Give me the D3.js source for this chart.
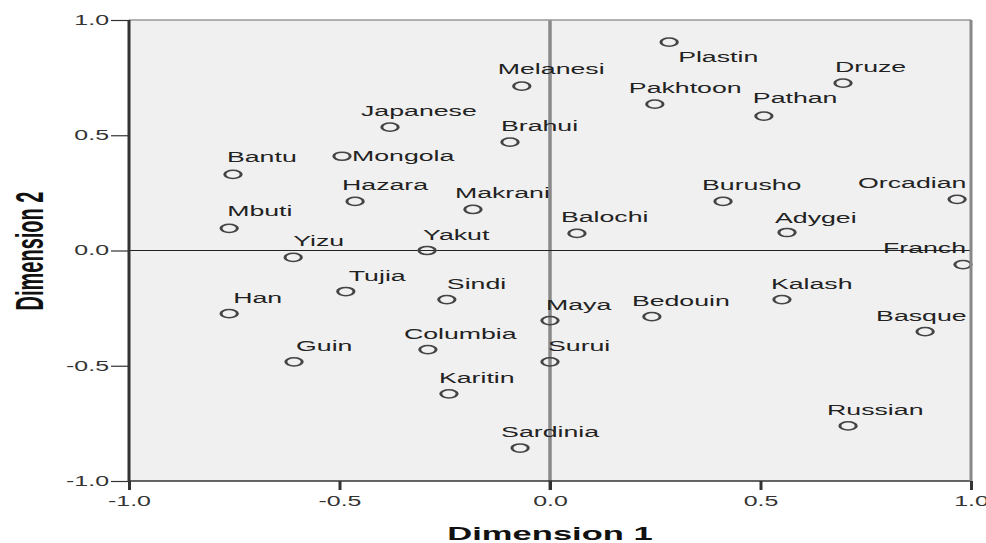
<!DOCTYPE html>
<html>
<head>
<meta charset="utf-8">
<script src="https://cdn.jsdelivr.net/npm/d3@7"></script>
<style>
  body { margin: 0; background: #fff; }
  text { font-family: "Liberation Sans", Arial, sans-serif; }
</style>
</head>
<body>
<script>
// Population names and their two MDS coordinates
var names = ["Plastin", "Druze", "Pakhtoon", "Pathan", "Melanesi", "Japanese", "Brahui", "Mongola",
             "Bantu", "Hazara", "Makrani", "Burusho", "Orcadian", "Mbuti", "Balochi", "Adygei",
             "Yakut", "Yizu", "Franch", "Tujia", "Sindi", "Kalash", "Han", "Maya",
             "Bedouin", "Basque", "Columbia", "Guin", "Surui", "Karitin", "Russian", "Sardinia"];

var dim1 = [0.283, 0.696, 0.249, 0.508, -0.067, -0.380, -0.095, -0.494,
            -0.753, -0.463, -0.183, 0.411, 0.967, -0.762, 0.064, 0.563,
            -0.292, -0.610, 0.981, -0.485, -0.245, 0.551, -0.762, 0.000,
            0.242, 0.891, -0.290, -0.608, 0.000, -0.240, 0.708, -0.071];

var dim2 = [0.904, 0.726, 0.635, 0.583, 0.713, 0.535, 0.470, 0.409,
            0.330, 0.213, 0.178, 0.213, 0.222, 0.096, 0.074, 0.078,
            0.000, -0.030, -0.061, -0.178, -0.213, -0.213, -0.274, -0.304,
            -0.287, -0.352, -0.430, -0.483, -0.483, -0.622, -0.761, -0.857];

var tickValues = [-1, -0.5, 0, 0.5, 1];

// label placement (pixels from the point), the way SPSS spread them out
var labelShift = {
  Plastin: [9, 20], Druze: [-8, -11], Pakhtoon: [-26, -11], Pathan: [-11, -13],
  Melanesi: [-24, -12], Japanese: [-29, -11], Brahui: [-9, -11], Mongola: [10, 5],
  Bantu: [-6, -12], Hazara: [-13, -11], Makrani: [-18, -11], Burusho: [-21, -11],
  Orcadian: [-99, -11], Mbuti: [-2, -12], Balochi: [-16, -11], Adygei: [-12, -10],
  Yakut: [-4, -11], Yizu: [0, -11], Franch: [-80, -12], Tujia: [3, -11],
  Sindi: [0, -11], Kalash: [-11, -11], Han: [4, -11], Maya: [-4, -11],
  Bedouin: [-20, -11], Basque: [-49, -11], Columbia: [-24, -11], Guin: [2, -11],
  Surui: [-2, -11], Karitin: [-10, -11], Russian: [-21, -11], Sardinia: [-19, -11]
};

// the original picture is stretched sideways, so text and markers are too
var sx = 1.78;

var margin = {top: 20, right: 15, bottom: 62, left: 129},
    width = 986 - margin.left - margin.right,
    height = 543 - margin.top - margin.bottom;

var svg = d3.select("body").append("svg")
    .attr("width", 986)
    .attr("height", 543)
  .append("g")
    .attr("transform", "translate(" + margin.left + "," + margin.top + ")");

var x = d3.scaleLinear().domain([-1, 1]).range([0, width]);
var y = d3.scaleLinear().domain([-1, 1]).range([height, 0]);

// plot background
svg.append("rect")
    .attr("width", width)
    .attr("height", height)
    .style("fill", "#f0f0f0");

// reference lines at zero
svg.append("line")
    .attr("x1", x(0)).attr("x2", x(0))
    .attr("y1", 0).attr("y2", height + 9)
    .style("stroke", "#8a8a8a")
    .style("stroke-width", 3.5);

svg.append("line")
    .attr("x1", 0).attr("x2", width)
    .attr("y1", y(0)).attr("y2", y(0))
    .style("stroke", "#222")
    .style("stroke-width", 1.2);

// axes
var xAxis = svg.append("g")
    .attr("transform", "translate(0," + height + ")")
    .call(d3.axisBottom(x).tickValues(tickValues).tickSize(9).tickPadding(6)
            .tickFormat(function(d) { return d.toFixed(1); }));

var yAxis = svg.append("g")
    .call(d3.axisLeft(y).tickValues(tickValues).tickSize(18).tickPadding(2)
            .tickFormat(function(d) { return d.toFixed(1); }));

xAxis.select(".domain").remove();
yAxis.select(".domain").remove();

xAxis.selectAll(".tick line")
    .style("stroke", "#333")
    .style("stroke-width", 3);
yAxis.selectAll(".tick line")
    .style("stroke", "#333")
    .style("stroke-width", 1.2);

xAxis.selectAll(".tick text")
    .attr("transform", "scale(" + sx + ",1)")
    .style("font-size", "14px")
    .style("fill", "#333")
    .style("font-family", "'Liberation Sans', Arial, sans-serif");

yAxis.selectAll(".tick text")
    .attr("x", -20 / sx)
    .attr("transform", "scale(" + sx + ",1)")
    .style("font-size", "14px")
    .style("fill", "#333")
    .style("font-family", "'Liberation Sans', Arial, sans-serif");

// points
var points = names.map(function(n, i) { return {name: n, d1: dim1[i], d2: dim2[i]}; });

svg.selectAll(".pt")
    .data(points)
    .enter()
    .append("circle")
    .attr("class", "pt")
    .attr("r", 4.1)
    .attr("transform", function(d) {
      return "translate(" + x(d.d1) + "," + y(d.d2) + ") scale(2,1)";
    })
    .style("fill", "none")
    .style("stroke", "#444")
    .style("stroke-width", 1.5);

svg.selectAll(".label")
    .data(points)
    .enter()
    .append("text")
    .attr("class", "label")
    .attr("transform", function(d) {
      var s = labelShift[d.name];
      return "translate(" + (x(d.d1) + s[0]) + "," + (y(d.d2) + s[1]) + ") scale(" + sx + ",1)";
    })
    .style("font-size", "15px")
    .style("fill", "#222")
    .text(function(d) { return d.name; });

// frame
svg.append("line")
    .attr("x1", 0).attr("x2", width).attr("y1", 0).attr("y2", 0)
    .style("stroke", "#999").style("stroke-width", 1.5);
svg.append("line")
    .attr("x1", 0).attr("x2", width).attr("y1", height).attr("y2", height)
    .style("stroke", "#333").style("stroke-width", 1.5);
svg.append("line")
    .attr("x1", width).attr("x2", width).attr("y1", 0).attr("y2", height)
    .style("stroke", "#888").style("stroke-width", 3);
svg.append("line")
    .attr("x1", 0).attr("x2", 0).attr("y1", 0).attr("y2", height)
    .style("stroke", "#333").style("stroke-width", 3);

// axis titles
svg.append("text")
    .attr("transform", "translate(" + (width / 2) + "," + (height + 59) + ") scale(1.92,1)")
    .attr("text-anchor", "middle")
    .style("font-size", "18px")
    .style("font-weight", "bold")
    .style("fill", "#111")
    .text("Dimension 1");

svg.append("text")
    .attr("transform", "translate(" + (43 - margin.left) + "," + (251 - margin.top) + ") rotate(-90) scale(1,1.9)")
    .attr("text-anchor", "middle")
    .style("font-size", "20px")
    .style("font-weight", "bold")
    .style("fill", "#111")
    .text("Dimension 2");
</script>
</body>
</html>
